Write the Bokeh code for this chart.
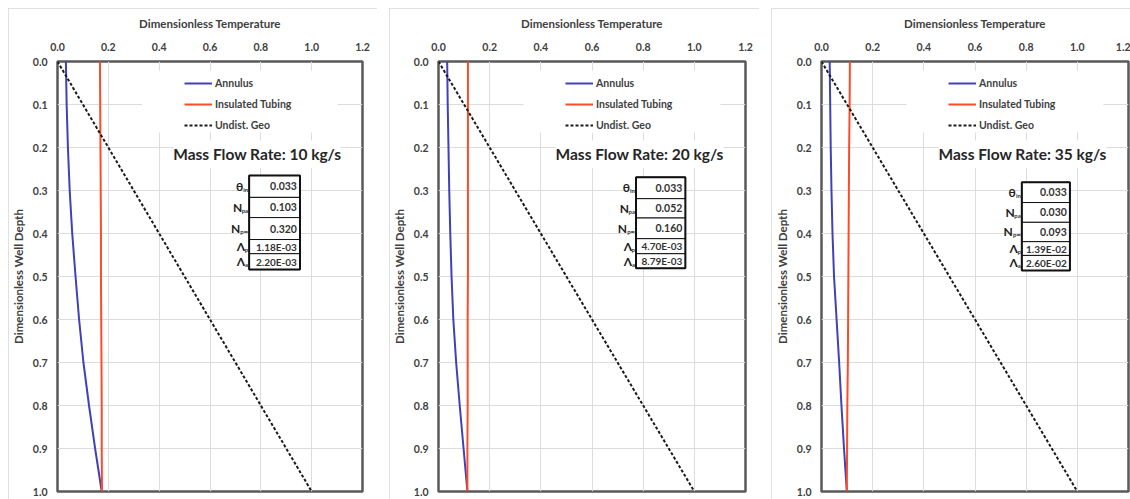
from bokeh.plotting import figure
from bokeh.layouts import row
from bokeh.models import Range1d, FixedTicker, PrintfTickFormatter, Legend, LegendItem
from bokeh.core.properties import value
from bokeh.embed import file_html
from bokeh.resources import INLINE

# ---------------- data ----------------
depth = [0.0, 0.1, 0.2, 0.3, 0.4, 0.5, 0.6, 0.7, 0.8, 0.9, 1.0]

annulus_10 = [0.033, 0.036, 0.041, 0.048, 0.058, 0.071, 0.085, 0.102, 0.124, 0.148, 0.174]
tubing_10 = [0.167, 0.168, 0.169, 0.170, 0.171, 0.171, 0.172, 0.173, 0.174, 0.174, 0.175]

annulus_20 = [0.034, 0.036, 0.039, 0.042, 0.046, 0.051, 0.058, 0.069, 0.083, 0.098, 0.113]
tubing_20 = [0.115, 0.115, 0.115, 0.115, 0.115, 0.115, 0.114, 0.114, 0.114, 0.113, 0.113]

annulus_35 = [0.032, 0.034, 0.036, 0.039, 0.043, 0.049, 0.059, 0.069, 0.078, 0.088, 0.099]
tubing_35 = [0.111, 0.110, 0.108, 0.107, 0.106, 0.105, 0.104, 0.103, 0.101, 0.100, 0.099]

geo_depth = [0.0, 1.0]
geo_temp = [0.0, 1.0]

series_names = ["Annulus", "Insulated Tubing", "Undist. Geo"]
flow_labels = ["Mass Flow Rate: 10 kg/s", "Mass Flow Rate: 20 kg/s", "Mass Flow Rate: 35 kg/s"]

param_symbols = ["\u03b8", "N", "N", "\u039b", "\u039b"]
param_subs = ["in", "pa", "p\u221e", "p", "a"]
params_10 = ["0.033", "0.103", "0.320", "1.18E-03", "2.20E-03"]
params_20 = ["0.033", "0.052", "0.160", "4.70E-03", "8.79E-03"]
params_35 = ["0.033", "0.030", "0.093", "1.39E-02", "2.60E-02"]

x_ticks = [0.0, 0.2, 0.4, 0.6, 0.8, 1.0, 1.2]
y_ticks = [0.0, 0.1, 0.2, 0.3, 0.4, 0.5, 0.6, 0.7, 0.8, 0.9, 1.0]

x_title = "Dimensionless Temperature"
y_title = "Dimensionless Well Depth"

# ---------------- style / layout ----------------
FONT = "Lato"
BLUE = "#4040b8"
RED = "#ff4a28"
TXT = "#404040"

panels = [
    dict(ann=annulus_10, tub=tubing_10, vals=params_10, flow=flow_labels[0],
         width=369, left=47, right=15,
         tx=(0.754, 0.954), ty=[0.265, 0.316, 0.363, 0.414, 0.447, 0.484]),
    dict(ann=annulus_20, tub=tubing_20, vals=params_20, flow=flow_labels[1],
         width=370, left=49, right=14,
         tx=(0.772, 0.965), ty=[0.269, 0.319, 0.364, 0.412, 0.447, 0.481]),
    dict(ann=annulus_35, tub=tubing_35, vals=params_35, flow=flow_labels[2],
         width=359, left=50, right=2,
         tx=(0.783, 0.971), ty=[0.281, 0.328, 0.374, 0.419, 0.451, 0.486]),
]

sub_offsets = [-5, -6, -8, -3, -3]


def make_panel(cfg):
    p = figure(width=cfg["width"], height=491, output_backend="svg", toolbar_location=None,
               x_range=Range1d(0, 1.2), y_range=Range1d(1.0, 0.0),
               x_axis_location="above", min_border_left=cfg["left"],
               min_border_right=cfg["right"], min_border_top=53, min_border_bottom=8)
    p.styles = {"outline": "1px solid #d6d6d6", "outline-offset": "-1px"}
    p.outline_line_color = "#595959"
    p.outline_line_width = 2.5
    p.background_fill_color = "white"
    p.border_fill_color = "white"

    for ax, ticks, title in ((p.xaxis[0], x_ticks, x_title), (p.yaxis[0], y_ticks, y_title)):
        ax.ticker = FixedTicker(ticks=ticks)
        ax.formatter = PrintfTickFormatter(format="%.1f")
        ax.axis_line_color = None
        ax.major_tick_line_color = None
        ax.minor_tick_line_color = None
        ax.major_tick_out = 0
        ax.major_tick_in = 0
        ax.major_label_text_font = FONT
        ax.major_label_text_font_style = "bold"
        ax.major_label_text_font_size = "10.5px"
        ax.major_label_text_color = TXT
        ax.axis_label = title
        ax.axis_label_text_font = FONT
        ax.axis_label_text_font_style = "bold"
        ax.axis_label_text_font_size = "11.5px"
        ax.axis_label_text_color = TXT
    p.xaxis[0].major_label_standoff = 11
    p.xaxis[0].axis_label_standoff = 10
    p.yaxis[0].major_label_standoff = 10
    p.yaxis[0].axis_label_standoff = 5

    p.grid.grid_line_color = "#dcdcdc"
    p.grid.grid_line_width = 1

    # white backgrounds behind legend and flow-rate caption (hide gridlines)
    p.quad(left=[0.332, 0.457], right=[1.102, 1.114], top=[0.021, 0.184],
           bottom=[0.165, 0.247], fill_color="white", line_color=None)

    r_ann = p.line(cfg["ann"], depth, line_color=BLUE, line_width=2)
    r_tub = p.line(cfg["tub"], depth, line_color=RED, line_width=2)
    r_geo = p.line(geo_temp, geo_depth, line_color="#1a1a1a", line_width=2, line_dash="3 2")

    legend = Legend(items=[LegendItem(label=series_names[0], renderers=[r_ann]),
                           LegendItem(label=series_names[1], renderers=[r_tub]),
                           LegendItem(label=series_names[2], renderers=[r_geo])],
                    location=(127, 356.5))
    legend.background_fill_alpha = 0
    legend.border_line_color = None
    legend.padding = 0
    legend.margin = 0
    legend.spacing = 1
    legend.glyph_width = 28
    legend.glyph_height = 20
    legend.label_height = 20
    legend.label_standoff = 3
    legend.label_text_font = FONT
    legend.label_text_font_style = "bold"
    legend.label_text_font_size = "10.5px"
    legend.label_text_color = TXT
    p.add_layout(legend)

    p.text(x=[0.786], y=[0.216], text=[cfg["flow"]], text_align="center",
           text_baseline="middle", text_font=value(FONT), text_font_style="bold",
           text_font_size="15.5px", text_color="#262626")

    # parameter table
    x0, x1 = cfg["tx"]
    ty = cfg["ty"]
    p.quad(left=[x0] * 5, right=[x1] * 5, top=ty[:-1], bottom=ty[1:],
           fill_color="white", line_color="#111111", line_width=1)
    p.quad(left=[x0], right=[x1], top=[ty[0]], bottom=[ty[-1]],
           fill_color=None, line_color="#111111", line_width=2)
    mids = [(a + b) / 2 for a, b in zip(ty[:-1], ty[1:])]
    sizes = ["10.5px", "10.5px", "10.5px", "10px", "10px"]
    for i in range(5):
        p.text(x=[x1 - 0.012], y=[mids[i]], text=[cfg["vals"][i]], text_align="right",
               text_baseline="middle", text_font=value(FONT), text_font_style="bold",
               text_font_size=sizes[i], text_color="#333333")
        p.text(x=[x0 - 0.004], y=[mids[i]], text=[param_subs[i]], text_align="right",
               text_baseline="middle", y_offset=3, text_font=value(FONT),
               text_font_style="bold", text_font_size="6px", text_color="#333333")
        p.text(x=[x0 - 0.004], y=[mids[i]], text=[param_symbols[i]], text_align="right",
               text_baseline="middle", x_offset=sub_offsets[i], text_font=value(FONT),
               text_font_style="bold", text_font_size="12px", text_color="#222222")
    return p


figs = [make_panel(c) for c in panels]
layout = row(*figs, spacing=12, margin=(8, 0, 0, 8))

open("out.html", "w").write(file_html(layout, INLINE))
